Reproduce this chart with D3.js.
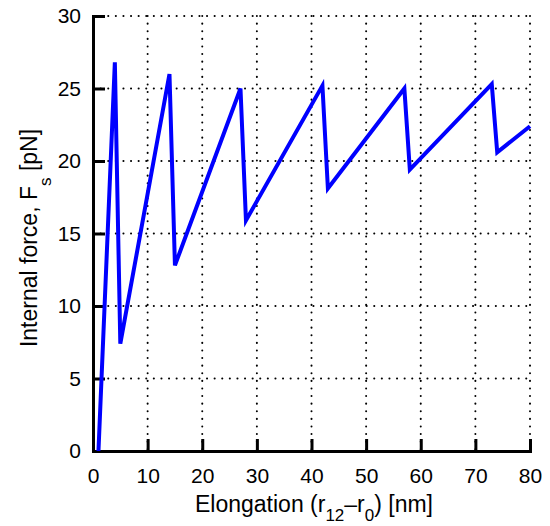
<!DOCTYPE html>
<html>
<head>
<meta charset="utf-8">
<script src="https://cdn.jsdelivr.net/npm/d3@7"></script>
<style>
  body { margin: 0; background: #fff; }
  text { font-family: "Liberation Sans", Arial, sans-serif; fill: #000; }
</style>
</head>
<body>
<div class="chart"></div>
<script>
// sawtooth force vs elongation
var elongation = [1, 4, 5, 14, 15, 27, 28, 42, 43, 57, 58, 73, 74, 80];
var force      = [0, 26.8, 7.4, 26.0, 12.8, 25.0, 15.9, 25.2, 18.1, 25.0, 19.4, 25.3, 20.6, 22.4];
var xTicks = [0, 10, 20, 30, 40, 50, 60, 70, 80];
var yTicks = [0, 5, 10, 15, 20, 25, 30];

var margin = {top: 16, right: 20, bottom: 75, left: 93};
var width = 550 - margin.left - margin.right;
var height = 526 - margin.top - margin.bottom;

var svg = d3.select(".chart")
    .append("svg")
    .attr("width", 550)
    .attr("height", 526);

var g = svg.append("g")
    .attr("transform", "translate(" + margin.left + "," + margin.top + ")");

var x = d3.scaleLinear().domain([0, 80]).range([0, width]);
var y = d3.scaleLinear().domain([0, 30]).range([height, 0]);

// dotted grid
g.selectAll(".vgrid")
    .data(xTicks.slice(1))
  .enter().append("line")
    .attr("x1", d => x(d)).attr("x2", d => x(d))
    .attr("y1", 0).attr("y2", height)
    .attr("stroke", "#000")
    .attr("stroke-width", 2)
    .attr("stroke-linecap", "round")
    .attr("stroke-dasharray", "0.1,7.5");

g.selectAll(".hgrid")
    .data(yTicks.slice(1))
  .enter().append("line")
    .attr("y1", d => y(d)).attr("y2", d => y(d))
    .attr("x1", 0).attr("x2", width)
    .attr("stroke", "#000")
    .attr("stroke-width", 2)
    .attr("stroke-linecap", "round")
    .attr("stroke-dasharray", "0.1,7.5");

// axes, ticks inside
var xAxis = g.append("g")
    .attr("transform", "translate(0," + height + ")")
    .call(d3.axisBottom(x).tickValues(xTicks).tickSizeInner(-12).tickSizeOuter(0).tickPadding(17));

var yAxis = g.append("g")
    .call(d3.axisLeft(y).tickValues(yTicks).tickSizeInner(-12).tickSizeOuter(0).tickPadding(12));

[xAxis, yAxis].forEach(function(a) {
  a.select(".domain").attr("stroke-width", 3).attr("stroke-linecap", "square");
  a.selectAll(".tick line").attr("stroke-width", 3);
  a.selectAll(".tick text")
    .style("font-family", "Liberation Sans, Arial, sans-serif")
    .style("font-size", "21px");
});

// curve
var line = d3.line()
    .x((d, i) => x(elongation[i]))
    .y(d => y(d));

g.append("path")
    .datum(force)
    .attr("fill", "none")
    .attr("stroke", "#0000ff")
    .attr("stroke-width", 4)
    .attr("stroke-linejoin", "miter")
    .attr("d", line);

// x label
var xl = svg.append("text")
    .attr("x", 314)
    .attr("y", 512)
    .attr("text-anchor", "middle")
    .style("font-size", "23px");
xl.append("tspan").text("Elongation (r");
xl.append("tspan").attr("dy", 9).style("font-size", "17px").text("12");
xl.append("tspan").attr("dy", -9).text("\u2013r");
xl.append("tspan").attr("dy", 9).style("font-size", "17px").text("0");
xl.append("tspan").attr("dy", -9).text(") [nm]");

// y label
var yl = svg.append("text")
    .attr("transform", "translate(37,238) rotate(-90)")
    .attr("text-anchor", "middle")
    .style("font-size", "23px");
yl.append("tspan").text("Internal force, F");
yl.append("tspan").attr("dy", 14).style("font-size", "17px").text("s");
yl.append("tspan").attr("dy", -14).text(" [pN]");
</script>
</body>
</html>
